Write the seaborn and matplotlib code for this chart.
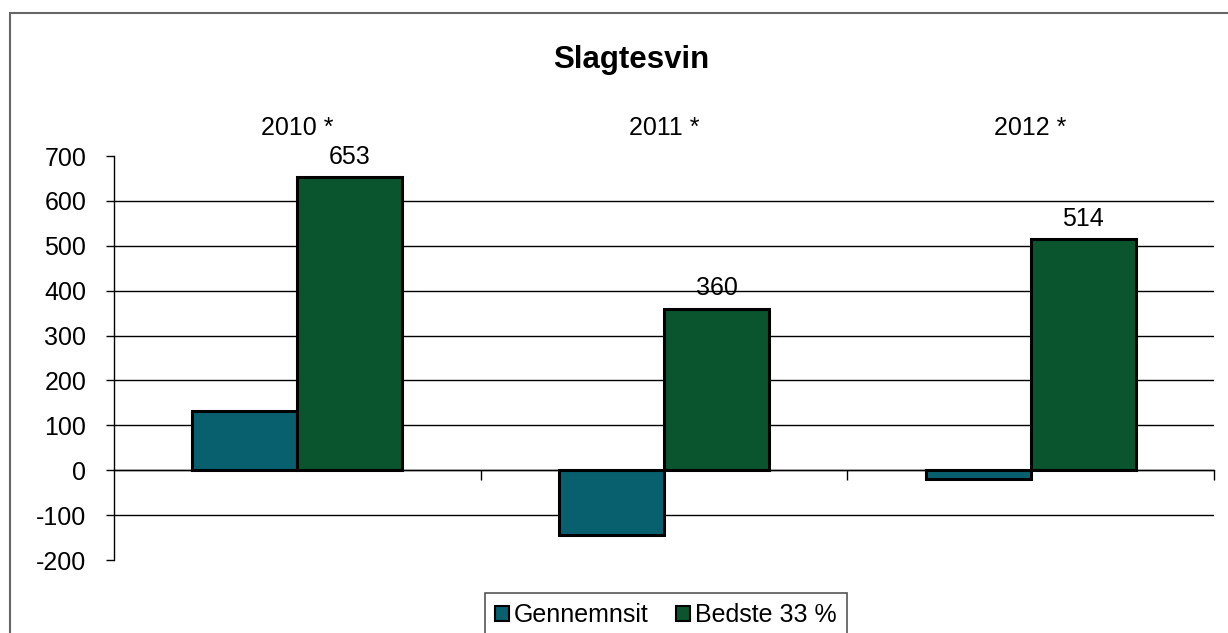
import pandas as pd
import seaborn as sns
import matplotlib.pyplot as plt
from matplotlib.patches import Rectangle

# values
years = ['2010 *', '2011 *', '2012 *']
gennemsnit = [132, -145, -20]
bedste = [653, 360, 514]
series = ['Gennemnsit', 'Bedste 33 %']
colors = ['#08606E', '#0B552E']
yticks = [-200, -100, 0, 100, 200, 300, 400, 500, 600, 700]

df = pd.DataFrame({
    'year': years * 2,
    'serie': [series[0]] * 3 + [series[1]] * 3,
    'value': gennemsnit + bedste,
})

sns.set_theme(style='white')
plt.rcParams['font.family'] = ['Liberation Sans', 'DejaVu Sans']
plt.rcParams['text.color'] = 'black'
plt.rcParams['xtick.color'] = 'black'
plt.rcParams['ytick.color'] = 'black'
fs = 18

fig = plt.figure(figsize=(12.28, 6.33), dpi=100)
ax = fig.add_axes([114 / 1228, 1 - 560 / 633, 1100 / 1228, 404 / 633])

sns.barplot(data=df, x='year', y='value', hue='serie', palette=colors,
            width=0.573, gap=0, edgecolor='black', linewidth=2.2,
            saturation=1, ax=ax, zorder=3)

# data labels only on the green bars
ax.bar_label(ax.containers[1], labels=[str(v) for v in bedste],
             padding=6, fontsize=fs, color='black')

ax.set_xlim(-0.5, 2.5)
ax.set_ylim(-200, 700)
ax.set_yticks(yticks)
ax.set_yticklabels([str(t) for t in yticks], fontsize=fs)
ax.tick_params(axis='y', length=6, width=1, color='black', pad=14, left=True)
ax.set_xlabel('')
ax.set_ylabel('')

# grid without the 700 / -200 lines
ax.yaxis.grid(True, color='black', linewidth=1, zorder=0)
for t, gl in zip(yticks, ax.get_ygridlines()):
    if t in (-200, 700):
        gl.set_visible(False)
ax.set_axisbelow(True)

# category axis sits at zero, labels go on top
for s in ['top', 'right']:
    ax.spines[s].set_visible(False)
ax.spines['left'].set_color('black')
ax.spines['left'].set_linewidth(1)
ax.spines['bottom'].set_position(('data', 0))
ax.spines['bottom'].set_color('black')
ax.spines['bottom'].set_linewidth(1)
ax.set_xticks([0.5, 1.5, 2.5])
ax.set_xticklabels([])
ax.tick_params(axis='x', direction='out', length=7, width=1, color='black', bottom=True)

sec = ax.secondary_xaxis('top')
sec.set_xticks([0, 1, 2], labels=years)
sec.tick_params(length=0, pad=11.5, labelsize=fs, labelcolor='black')
sec.spines['top'].set_visible(False)

fig.text(631 / 1228, 1 - 60 / 633, 'Slagtesvin', ha='center', va='center',
         fontsize=22.5, fontweight='bold', color='black')

ax.get_legend().remove()
handles = [Rectangle((0, 0), 1, 1, facecolor=c, edgecolor='black', linewidth=1.5) for c in colors]
leg = fig.legend(handles, series, loc='center', bbox_to_anchor=(666 / 1228, 1 - 615 / 633),
                 ncol=2, fontsize=fs, frameon=True, fancybox=False, framealpha=1,
                 edgecolor='#555555', handlelength=0.55, handleheight=0.55,
                 handletextpad=0.2, columnspacing=1.1, borderpad=0.4)
leg.get_frame().set_linewidth(1.2)

# outer chart frame
fig.patches.append(Rectangle((10 / 1228, -0.1), 1.2, 1 - 13 / 633 + 0.1,
                             transform=fig.transFigure, fill=False,
                             edgecolor='#666666', linewidth=1.5))

fig.savefig('out.png', dpi=100, facecolor='white')
